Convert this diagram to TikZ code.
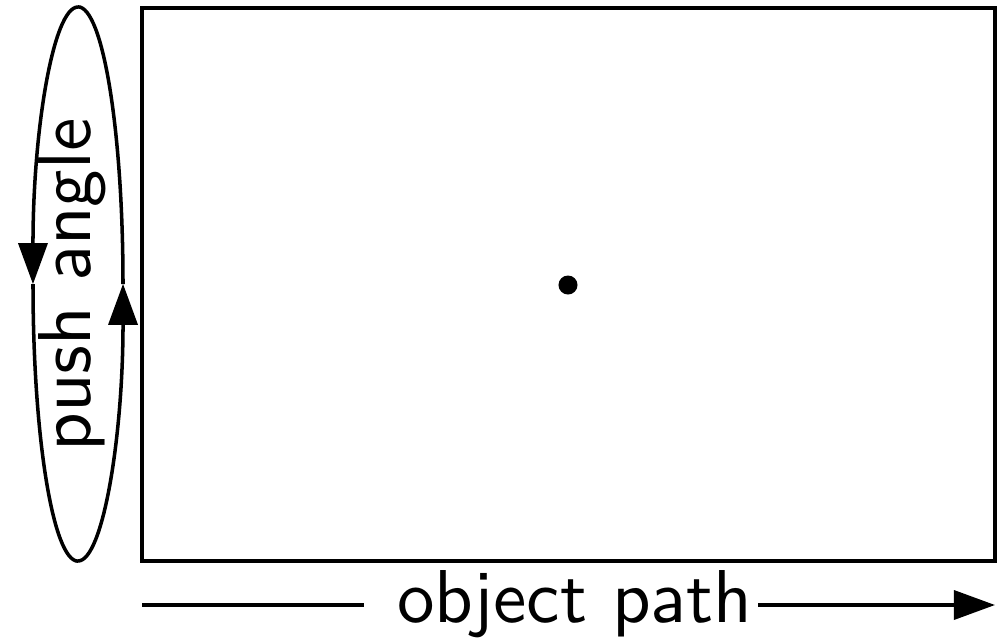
\documentclass[tikz,border=0pt]{standalone}
\usepackage{tikz}
\usetikzlibrary{arrows.meta}

\begin{document}
\begin{tikzpicture}[x=0.01cm,y=0.01cm,line width=1pt,
  bighead/.style={-{Triangle[length=0.41cm,width=0.29cm]}},
  axislabel/.style={inner sep=0pt,scale=2.13,transform shape,font=\sffamily\fontsize{10}{12}\selectfont}]
\useasboundingbox (0,0) rectangle (999,638);
\draw (142,77) rectangle (995,630);
\node[circle,fill,inner sep=0pt,minimum size=0.19cm] (state) at (568,353) {};
% push angle: ellipse drawn as four arcs
\draw[bighead] (78,631) arc[start angle=90,end angle=180,x radius=0.45cm,y radius=2.77cm];
\draw (33,354) arc[start angle=180,end angle=270,x radius=0.45cm,y radius=2.77cm];
\draw[bighead] (78,77) arc[start angle=270,end angle=360,x radius=0.45cm,y radius=2.77cm];
\draw (123,354) arc[start angle=0,end angle=90,x radius=0.45cm,y radius=2.77cm];
\node[axislabel,rotate=90,anchor=base] (angle) at (90,353) {push angle};
% object path
\node[axislabel,anchor=base] (objpath) at (575,16) {object path};
\coordinate (pathstart) at (142,33);
\coordinate (pathend) at (995,33);
\draw (pathstart) -- (364,33);
\draw[bighead] (758,33) -- (pathend);
\end{tikzpicture}
\end{document}
